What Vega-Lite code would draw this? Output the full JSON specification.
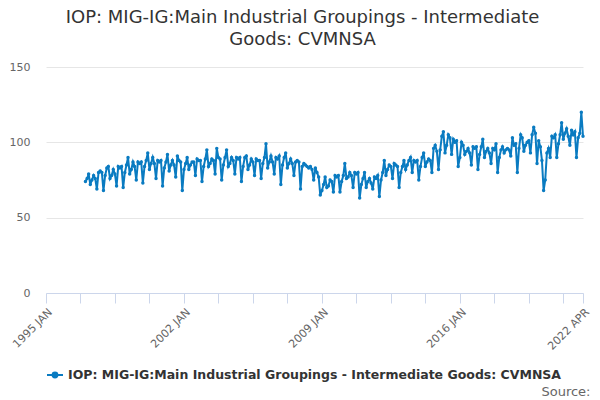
{
  "$schema": "https://vega.github.io/schema/vega-lite/v6.json",
  "width": 537,
  "height": 226,
  "autosize": "none",
  "padding": {"left": 46, "top": 67, "right": 17, "bottom": 107},
  "background": "white",
  "title": {
    "text": ["IOP: MIG-IG:Main Industrial Groupings - Intermediate", "Goods: CVMNSA"],
    "font": "DejaVu Sans",
    "fontSize": 18,
    "fontWeight": "normal",
    "color": "#333333",
    "anchor": "middle",
    "frame": "group",
    "dx": -12,
    "offset": 12,
    "lineHeight": 22
  },
  "data": {
    "values": [
      {"d": "1997-01-01", "v": 74}, {"d": "1997-02-01", "v": 76}, {"d": "1997-03-01", "v": 79}, {"d": "1997-04-01", "v": 72}, {"d": "1997-05-01", "v": 75}, {"d": "1997-06-01", "v": 78}, {"d": "1997-07-01", "v": 76}, {"d": "1997-08-01", "v": 69}, {"d": "1997-09-01", "v": 80}, {"d": "1997-10-01", "v": 81}, {"d": "1997-11-01", "v": 80}, {"d": "1997-12-01", "v": 68},
      {"d": "1998-01-01", "v": 78}, {"d": "1998-02-01", "v": 83}, {"d": "1998-03-01", "v": 84}, {"d": "1998-04-01", "v": 76}, {"d": "1998-05-01", "v": 78}, {"d": "1998-06-01", "v": 82}, {"d": "1998-07-01", "v": 79}, {"d": "1998-08-01", "v": 71}, {"d": "1998-09-01", "v": 84}, {"d": "1998-10-01", "v": 83}, {"d": "1998-11-01", "v": 84}, {"d": "1998-12-01", "v": 70},
      {"d": "1999-01-01", "v": 80}, {"d": "1999-02-01", "v": 85}, {"d": "1999-03-01", "v": 90}, {"d": "1999-04-01", "v": 79}, {"d": "1999-05-01", "v": 82}, {"d": "1999-06-01", "v": 87}, {"d": "1999-07-01", "v": 84}, {"d": "1999-08-01", "v": 75}, {"d": "1999-09-01", "v": 87}, {"d": "1999-10-01", "v": 86}, {"d": "1999-11-01", "v": 87}, {"d": "1999-12-01", "v": 73},
      {"d": "2000-01-01", "v": 84}, {"d": "2000-02-01", "v": 88}, {"d": "2000-03-01", "v": 93}, {"d": "2000-04-01", "v": 82}, {"d": "2000-05-01", "v": 86}, {"d": "2000-06-01", "v": 90}, {"d": "2000-07-01", "v": 86}, {"d": "2000-08-01", "v": 76}, {"d": "2000-09-01", "v": 88}, {"d": "2000-10-01", "v": 87}, {"d": "2000-11-01", "v": 88}, {"d": "2000-12-01", "v": 71},
      {"d": "2001-01-01", "v": 83}, {"d": "2001-02-01", "v": 87}, {"d": "2001-03-01", "v": 92}, {"d": "2001-04-01", "v": 81}, {"d": "2001-05-01", "v": 85}, {"d": "2001-06-01", "v": 88}, {"d": "2001-07-01", "v": 85}, {"d": "2001-08-01", "v": 77}, {"d": "2001-09-01", "v": 91}, {"d": "2001-10-01", "v": 88}, {"d": "2001-11-01", "v": 87}, {"d": "2001-12-01", "v": 68},
      {"d": "2002-01-01", "v": 82}, {"d": "2002-02-01", "v": 86}, {"d": "2002-03-01", "v": 90}, {"d": "2002-04-01", "v": 82}, {"d": "2002-05-01", "v": 85}, {"d": "2002-06-01", "v": 87}, {"d": "2002-07-01", "v": 87}, {"d": "2002-08-01", "v": 78}, {"d": "2002-09-01", "v": 89}, {"d": "2002-10-01", "v": 88}, {"d": "2002-11-01", "v": 88}, {"d": "2002-12-01", "v": 74},
      {"d": "2003-01-01", "v": 84}, {"d": "2003-02-01", "v": 89}, {"d": "2003-03-01", "v": 95}, {"d": "2003-04-01", "v": 84}, {"d": "2003-05-01", "v": 86}, {"d": "2003-06-01", "v": 89}, {"d": "2003-07-01", "v": 88}, {"d": "2003-08-01", "v": 79}, {"d": "2003-09-01", "v": 96}, {"d": "2003-10-01", "v": 90}, {"d": "2003-11-01", "v": 89}, {"d": "2003-12-01", "v": 75},
      {"d": "2004-01-01", "v": 85}, {"d": "2004-02-01", "v": 90}, {"d": "2004-03-01", "v": 95}, {"d": "2004-04-01", "v": 84}, {"d": "2004-05-01", "v": 86}, {"d": "2004-06-01", "v": 90}, {"d": "2004-07-01", "v": 88}, {"d": "2004-08-01", "v": 79}, {"d": "2004-09-01", "v": 90}, {"d": "2004-10-01", "v": 89}, {"d": "2004-11-01", "v": 90}, {"d": "2004-12-01", "v": 74},
      {"d": "2005-01-01", "v": 84}, {"d": "2005-02-01", "v": 90}, {"d": "2005-03-01", "v": 91}, {"d": "2005-04-01", "v": 82}, {"d": "2005-05-01", "v": 85}, {"d": "2005-06-01", "v": 89}, {"d": "2005-07-01", "v": 87}, {"d": "2005-08-01", "v": 78}, {"d": "2005-09-01", "v": 89}, {"d": "2005-10-01", "v": 88}, {"d": "2005-11-01", "v": 88}, {"d": "2005-12-01", "v": 76},
      {"d": "2006-01-01", "v": 86}, {"d": "2006-02-01", "v": 90}, {"d": "2006-03-01", "v": 99}, {"d": "2006-04-01", "v": 83}, {"d": "2006-05-01", "v": 87}, {"d": "2006-06-01", "v": 91}, {"d": "2006-07-01", "v": 87}, {"d": "2006-08-01", "v": 79}, {"d": "2006-09-01", "v": 90}, {"d": "2006-10-01", "v": 89}, {"d": "2006-11-01", "v": 91}, {"d": "2006-12-01", "v": 72},
      {"d": "2007-01-01", "v": 85}, {"d": "2007-02-01", "v": 90}, {"d": "2007-03-01", "v": 93}, {"d": "2007-04-01", "v": 83}, {"d": "2007-05-01", "v": 86}, {"d": "2007-06-01", "v": 89}, {"d": "2007-07-01", "v": 86}, {"d": "2007-08-01", "v": 78}, {"d": "2007-09-01", "v": 87}, {"d": "2007-10-01", "v": 88}, {"d": "2007-11-01", "v": 87}, {"d": "2007-12-01", "v": 69},
      {"d": "2008-01-01", "v": 84}, {"d": "2008-02-01", "v": 86}, {"d": "2008-03-01", "v": 85}, {"d": "2008-04-01", "v": 84}, {"d": "2008-05-01", "v": 83}, {"d": "2008-06-01", "v": 84}, {"d": "2008-07-01", "v": 82}, {"d": "2008-08-01", "v": 75}, {"d": "2008-09-01", "v": 83}, {"d": "2008-10-01", "v": 80}, {"d": "2008-11-01", "v": 77}, {"d": "2008-12-01", "v": 65},
      {"d": "2009-01-01", "v": 68}, {"d": "2009-02-01", "v": 72}, {"d": "2009-03-01", "v": 77}, {"d": "2009-04-01", "v": 70}, {"d": "2009-05-01", "v": 71}, {"d": "2009-06-01", "v": 75}, {"d": "2009-07-01", "v": 74}, {"d": "2009-08-01", "v": 67}, {"d": "2009-09-01", "v": 78}, {"d": "2009-10-01", "v": 77}, {"d": "2009-11-01", "v": 78}, {"d": "2009-12-01", "v": 67},
      {"d": "2010-01-01", "v": 74}, {"d": "2010-02-01", "v": 78}, {"d": "2010-03-01", "v": 86}, {"d": "2010-04-01", "v": 76}, {"d": "2010-05-01", "v": 77}, {"d": "2010-06-01", "v": 80}, {"d": "2010-07-01", "v": 78}, {"d": "2010-08-01", "v": 70}, {"d": "2010-09-01", "v": 80}, {"d": "2010-10-01", "v": 79}, {"d": "2010-11-01", "v": 80}, {"d": "2010-12-01", "v": 63},
      {"d": "2011-01-01", "v": 72}, {"d": "2011-02-01", "v": 76}, {"d": "2011-03-01", "v": 80}, {"d": "2011-04-01", "v": 70}, {"d": "2011-05-01", "v": 74}, {"d": "2011-06-01", "v": 76}, {"d": "2011-07-01", "v": 73}, {"d": "2011-08-01", "v": 69}, {"d": "2011-09-01", "v": 77}, {"d": "2011-10-01", "v": 76}, {"d": "2011-11-01", "v": 78}, {"d": "2011-12-01", "v": 64},
      {"d": "2012-01-01", "v": 75}, {"d": "2012-02-01", "v": 80}, {"d": "2012-03-01", "v": 88}, {"d": "2012-04-01", "v": 78}, {"d": "2012-05-01", "v": 82}, {"d": "2012-06-01", "v": 85}, {"d": "2012-07-01", "v": 84}, {"d": "2012-08-01", "v": 76}, {"d": "2012-09-01", "v": 86}, {"d": "2012-10-01", "v": 85}, {"d": "2012-11-01", "v": 84}, {"d": "2012-12-01", "v": 70},
      {"d": "2013-01-01", "v": 80}, {"d": "2013-02-01", "v": 84}, {"d": "2013-03-01", "v": 88}, {"d": "2013-04-01", "v": 82}, {"d": "2013-05-01", "v": 85}, {"d": "2013-06-01", "v": 88}, {"d": "2013-07-01", "v": 90}, {"d": "2013-08-01", "v": 80}, {"d": "2013-09-01", "v": 88}, {"d": "2013-10-01", "v": 87}, {"d": "2013-11-01", "v": 88}, {"d": "2013-12-01", "v": 75},
      {"d": "2014-01-01", "v": 84}, {"d": "2014-02-01", "v": 90}, {"d": "2014-03-01", "v": 93}, {"d": "2014-04-01", "v": 84}, {"d": "2014-05-01", "v": 87}, {"d": "2014-06-01", "v": 89}, {"d": "2014-07-01", "v": 88}, {"d": "2014-08-01", "v": 80}, {"d": "2014-09-01", "v": 96}, {"d": "2014-10-01", "v": 98}, {"d": "2014-11-01", "v": 94}, {"d": "2014-12-01", "v": 82},
      {"d": "2015-01-01", "v": 95}, {"d": "2015-02-01", "v": 104}, {"d": "2015-03-01", "v": 107}, {"d": "2015-04-01", "v": 93}, {"d": "2015-05-01", "v": 98}, {"d": "2015-06-01", "v": 105}, {"d": "2015-07-01", "v": 103}, {"d": "2015-08-01", "v": 92}, {"d": "2015-09-01", "v": 102}, {"d": "2015-10-01", "v": 100}, {"d": "2015-11-01", "v": 101}, {"d": "2015-12-01", "v": 84},
      {"d": "2016-01-01", "v": 90}, {"d": "2016-02-01", "v": 100}, {"d": "2016-03-01", "v": 98}, {"d": "2016-04-01", "v": 92}, {"d": "2016-05-01", "v": 94}, {"d": "2016-06-01", "v": 96}, {"d": "2016-07-01", "v": 93}, {"d": "2016-08-01", "v": 85}, {"d": "2016-09-01", "v": 97}, {"d": "2016-10-01", "v": 96}, {"d": "2016-11-01", "v": 97}, {"d": "2016-12-01", "v": 82},
      {"d": "2017-01-01", "v": 92}, {"d": "2017-02-01", "v": 97}, {"d": "2017-03-01", "v": 102}, {"d": "2017-04-01", "v": 90}, {"d": "2017-05-01", "v": 94}, {"d": "2017-06-01", "v": 96}, {"d": "2017-07-01", "v": 93}, {"d": "2017-08-01", "v": 86}, {"d": "2017-09-01", "v": 96}, {"d": "2017-10-01", "v": 95}, {"d": "2017-11-01", "v": 99}, {"d": "2017-12-01", "v": 80},
      {"d": "2018-01-01", "v": 90}, {"d": "2018-02-01", "v": 95}, {"d": "2018-03-01", "v": 97}, {"d": "2018-04-01", "v": 93}, {"d": "2018-05-01", "v": 95}, {"d": "2018-06-01", "v": 96}, {"d": "2018-07-01", "v": 95}, {"d": "2018-08-01", "v": 91}, {"d": "2018-09-01", "v": 103}, {"d": "2018-10-01", "v": 98}, {"d": "2018-11-01", "v": 99}, {"d": "2018-12-01", "v": 80},
      {"d": "2019-01-01", "v": 96}, {"d": "2019-02-01", "v": 105}, {"d": "2019-03-01", "v": 103}, {"d": "2019-04-01", "v": 94}, {"d": "2019-05-01", "v": 98}, {"d": "2019-06-01", "v": 100}, {"d": "2019-07-01", "v": 101}, {"d": "2019-08-01", "v": 93}, {"d": "2019-09-01", "v": 105}, {"d": "2019-10-01", "v": 110}, {"d": "2019-11-01", "v": 106}, {"d": "2019-12-01", "v": 86},
      {"d": "2020-01-01", "v": 101}, {"d": "2020-02-01", "v": 97}, {"d": "2020-03-01", "v": 88}, {"d": "2020-04-01", "v": 68}, {"d": "2020-05-01", "v": 75}, {"d": "2020-06-01", "v": 93}, {"d": "2020-07-01", "v": 96}, {"d": "2020-08-01", "v": 90}, {"d": "2020-09-01", "v": 104}, {"d": "2020-10-01", "v": 103}, {"d": "2020-11-01", "v": 105}, {"d": "2020-12-01", "v": 90},
      {"d": "2021-01-01", "v": 99}, {"d": "2021-02-01", "v": 105}, {"d": "2021-03-01", "v": 113}, {"d": "2021-04-01", "v": 102}, {"d": "2021-05-01", "v": 106}, {"d": "2021-06-01", "v": 109}, {"d": "2021-07-01", "v": 104}, {"d": "2021-08-01", "v": 98}, {"d": "2021-09-01", "v": 108}, {"d": "2021-10-01", "v": 105}, {"d": "2021-11-01", "v": 107}, {"d": "2021-12-01", "v": 90},
      {"d": "2022-01-01", "v": 103}, {"d": "2022-02-01", "v": 106}, {"d": "2022-03-01", "v": 120}, {"d": "2022-04-01", "v": 104}
    ]
  },
  "mark": {
    "type": "line",
    "strokeWidth": 2,
    "point": {"filled": true, "size": 12}
  },
  "encoding": {
    "x": {
      "field": "d",
      "type": "temporal",
      "scale": {
        "type": "utc",
        "domain": [
          {"year": 1995, "month": 1, "date": 1, "utc": true},
          {"year": 2022, "month": 4, "date": 1, "utc": true}
        ]
      },
      "axis": {
        "values": [
          {"year": 1995, "month": 1, "date": 1, "utc": true},
          {"year": 1996, "month": 10, "date": 1, "utc": true},
          {"year": 1998, "month": 7, "date": 1, "utc": true},
          {"year": 2000, "month": 4, "date": 1, "utc": true},
          {"year": 2002, "month": 1, "date": 1, "utc": true},
          {"year": 2003, "month": 10, "date": 1, "utc": true},
          {"year": 2005, "month": 7, "date": 1, "utc": true},
          {"year": 2007, "month": 4, "date": 1, "utc": true},
          {"year": 2009, "month": 1, "date": 1, "utc": true},
          {"year": 2010, "month": 10, "date": 1, "utc": true},
          {"year": 2012, "month": 7, "date": 1, "utc": true},
          {"year": 2014, "month": 4, "date": 1, "utc": true},
          {"year": 2016, "month": 1, "date": 1, "utc": true},
          {"year": 2017, "month": 10, "date": 1, "utc": true},
          {"year": 2019, "month": 7, "date": 1, "utc": true},
          {"year": 2021, "month": 4, "date": 1, "utc": true},
          {"year": 2022, "month": 4, "date": 1, "utc": true}
        ],
        "labelExpr": "utcmonth(datum.value) == 0 || utcyear(datum.value) == 2022 ? upper(utcFormat(datum.value, '%Y %b')) : ''",
        "labelAngle": -45,
        "labelAlign": "right",
        "labelBaseline": "top",
        "labelFont": "DejaVu Sans",
        "labelFontSize": 11,
        "labelColor": "#666666",
        "labelPadding": 3,
        "labelOverlap": false,
        "labelBound": false,
        "labelFlush": false,
        "domainColor": "#ccd6eb",
        "tickColor": "#ccd6eb",
        "tickSize": 10,
        "grid": false,
        "title": "Source:",
        "titleFont": "DejaVu Sans",
        "titleFontSize": 13,
        "titleFontWeight": "normal",
        "titleColor": "#666666",
        "titleAnchor": "end",
        "titleAlign": "right",
        "titleBaseline": "alphabetic",
        "titleX": 544,
        "titleY": 102
      }
    },
    "y": {
      "field": "v",
      "type": "quantitative",
      "scale": {"domain": [0, 150]},
      "axis": {
        "title": null,
        "values": [0, 50, 100, 150],
        "domain": false,
        "ticks": false,
        "labelPadding": 16,
        "labelFont": "DejaVu Sans",
        "labelFontSize": 11,
        "labelColor": "#666666",
        "gridColor": "#e6e6e6"
      }
    },
    "color": {
      "datum": "IOP: MIG-IG:Main Industrial Groupings - Intermediate Goods: CVMNSA",
      "type": "nominal",
      "scale": {"range": ["#0a7bc1"]},
      "legend": {
        "orient": "none",
        "legendX": 0,
        "legendY": 299,
        "title": null,
        "labelFont": "DejaVu Sans",
        "labelFontSize": 12.5,
        "labelFontWeight": "bold",
        "labelColor": "#333333",
        "labelLimit": 0,
        "symbolType": "M-1,0H1M-0.3,0A0.3,0.3 0 1,1 0.3,0A0.3,0.3 0 1,1 -0.3,0Z",
        "symbolSize": 256,
        "symbolStrokeWidth": 2,
        "symbolFillColor": "#0a7bc1",
        "symbolStrokeColor": "#0a7bc1"
      }
    }
  },
  "config": {
    "view": {"stroke": null},
    "font": "DejaVu Sans"
  }
}
